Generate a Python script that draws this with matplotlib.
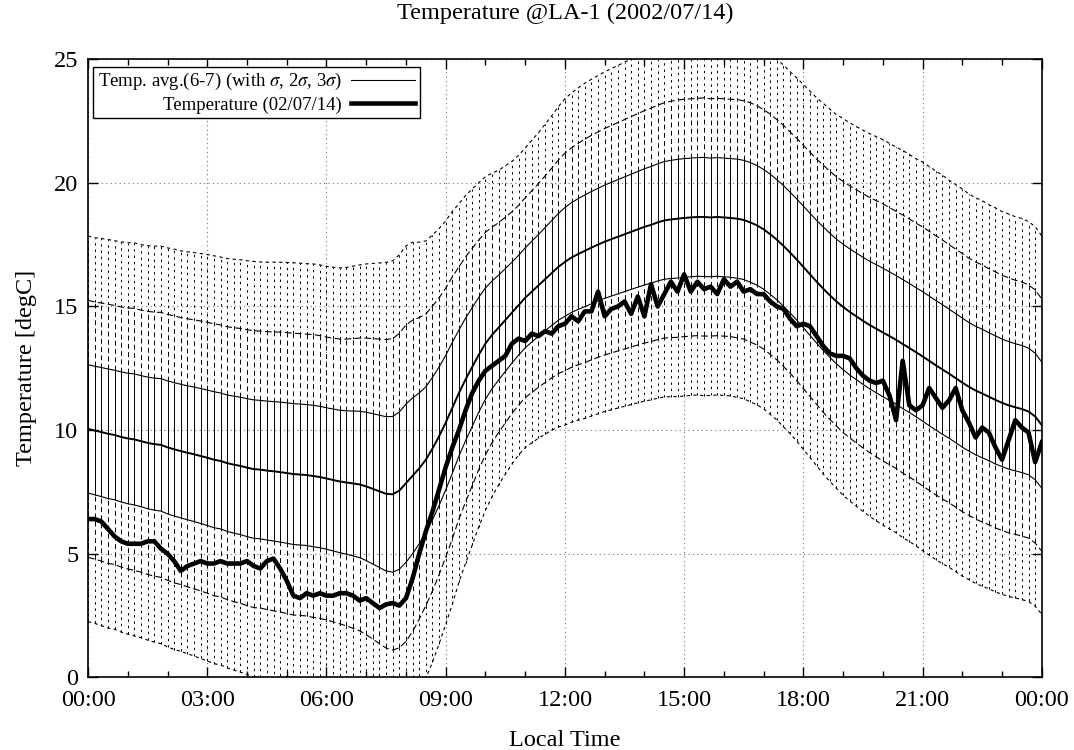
import numpy as np
import matplotlib
matplotlib.use("Agg")
import matplotlib.pyplot as plt
from matplotlib.lines import Line2D

plt.rcParams['font.family'] = ['Liberation Serif', 'DejaVu Serif']
plt.rcParams['mathtext.fontset'] = 'stix'

# Time axis: 10-minute steps over one day (hours)
step_minutes = 10
hours = np.arange(0, 24 * 60 + 1, step_minutes) / 60.0

# Climatological mean temperature (June-July), degC
mean_temp = [
    10.05, 9.98, 9.92, 9.85, 9.80, 9.72,
    9.66, 9.62, 9.55, 9.48, 9.43, 9.40,
    9.30, 9.22, 9.15, 9.08, 9.02, 8.95,
    8.88, 8.80, 8.75, 8.66, 8.60, 8.55,
    8.48, 8.42, 8.40, 8.36, 8.33, 8.30,
    8.26, 8.22, 8.20, 8.18, 8.14, 8.10,
    8.04, 7.98, 7.92, 7.88, 7.84, 7.80,
    7.72, 7.62, 7.52, 7.42, 7.40, 7.55,
    7.85, 8.15, 8.45, 8.80, 9.25, 9.75,
    10.30, 10.90, 11.50, 12.05, 12.55, 13.05,
    13.50, 13.85, 14.15, 14.45, 14.75, 15.05,
    15.35, 15.60, 15.85, 16.10, 16.35, 16.60,
    16.80, 16.98, 17.12, 17.25, 17.38, 17.50,
    17.62, 17.72, 17.82, 17.92, 18.02, 18.12,
    18.22, 18.30, 18.40, 18.48, 18.52, 18.55,
    18.58, 18.60, 18.62, 18.62, 18.60, 18.62,
    18.60, 18.58, 18.55, 18.50, 18.40, 18.28,
    18.12, 17.92, 17.70, 17.45, 17.18, 16.90,
    16.60, 16.30, 16.00, 15.72, 15.45, 15.20,
    14.98, 14.78, 14.60, 14.42, 14.25, 14.10,
    13.95, 13.80, 13.65, 13.48, 13.32, 13.15,
    12.98, 12.80, 12.62, 12.45, 12.28, 12.10,
    11.92, 11.75, 11.60, 11.48, 11.35, 11.22,
    11.10, 11.00, 10.92, 10.85, 10.75, 10.55,
    10.20,
]

# Standard deviation of the climatology, degC
sigma = [
    2.60, 2.60, 2.61, 2.62, 2.62, 2.63,
    2.64, 2.65, 2.65, 2.66, 2.67, 2.68,
    2.69, 2.70, 2.70, 2.71, 2.72, 2.73,
    2.74, 2.75, 2.75, 2.76, 2.77, 2.78,
    2.79, 2.80, 2.80, 2.81, 2.82, 2.83,
    2.84, 2.85, 2.85, 2.85, 2.86, 2.86,
    2.86, 2.87, 2.88, 2.90, 2.93, 2.96,
    3.00, 3.04, 3.08, 3.12, 3.15, 3.18,
    3.20, 3.15, 3.05, 2.95, 2.88, 2.80,
    2.72, 2.65, 2.55, 2.48, 2.40, 2.32,
    2.25, 2.18, 2.12, 2.08, 2.04, 2.02,
    2.02, 2.04, 2.06, 2.09, 2.12, 2.16,
    2.20, 2.22, 2.24, 2.26, 2.27, 2.28,
    2.29, 2.30, 2.31, 2.32, 2.33, 2.34,
    2.35, 2.36, 2.37, 2.38, 2.39, 2.40,
    2.40, 2.40, 2.40, 2.41, 2.40, 2.40,
    2.40, 2.40, 2.41, 2.41, 2.42, 2.42,
    2.42, 2.43, 2.43, 2.44, 2.44, 2.45,
    2.46, 2.47, 2.48, 2.50, 2.51, 2.52,
    2.54, 2.55, 2.56, 2.57, 2.58, 2.59,
    2.60, 2.60, 2.60, 2.61, 2.61, 2.61,
    2.62, 2.62, 2.62, 2.62, 2.61, 2.61,
    2.61, 2.60, 2.60, 2.60, 2.59, 2.59,
    2.58, 2.58, 2.57, 2.57, 2.56, 2.56,
    2.55,
]

# Observed temperature on 2002/07/14, degC
temp_day = [
    6.4, 6.4, 6.3, 6.0, 5.7, 5.5,
    5.4, 5.4, 5.4, 5.5, 5.5, 5.2,
    5.0, 4.7, 4.3, 4.5, 4.6, 4.7,
    4.6, 4.6, 4.7, 4.6, 4.6, 4.6,
    4.7, 4.5, 4.4, 4.7, 4.8, 4.4,
    3.9, 3.3, 3.2, 3.4, 3.3, 3.4,
    3.3, 3.3, 3.4, 3.4, 3.3, 3.1,
    3.2, 3.0, 2.8, 2.95, 3.0, 2.9,
    3.2, 4.0, 5.0, 5.9, 6.7, 7.6,
    8.5, 9.3, 10.0, 10.8, 11.5, 12.0,
    12.4, 12.6, 12.8, 13.0, 13.5, 13.7,
    13.6, 13.9, 13.8, 14.0, 13.9, 14.2,
    14.3, 14.6, 14.4, 14.8, 14.8, 15.6,
    14.6, 14.9, 15.0, 15.2, 14.7, 15.4,
    14.6, 15.9, 15.0, 15.5, 16.0, 15.6,
    16.3, 15.6, 16.0, 15.7, 15.8, 15.5,
    16.1, 15.8, 16.0, 15.6, 15.7, 15.5,
    15.5, 15.2, 15.0, 14.9, 14.5, 14.2,
    14.3, 14.2, 13.8, 13.4, 13.1, 13.0,
    13.0, 12.9, 12.5, 12.2, 12.0, 11.9,
    12.0, 11.4, 10.4, 12.8, 11.0, 10.8,
    11.0, 11.7, 11.3, 10.9, 11.2, 11.7,
    10.8, 10.3, 9.7, 10.1, 9.9, 9.3,
    8.8, 9.6, 10.4, 10.1, 9.9, 8.7,
    9.5,
]

x_tick_hours = [0, 3, 6, 9, 12, 15, 18, 21, 24]
x_tick_labels = ["00:00", "03:00", "06:00", "09:00", "12:00",
                 "15:00", "18:00", "21:00", "00:00"]
y_ticks = [0, 5, 10, 15, 20, 25]

m = np.asarray(mean_temp)
s = np.asarray(sigma)

fig = plt.figure(figsize=(10.74, 7.5), dpi=100)
ax = fig.add_axes([0.082, 0.097, 0.888, 0.824])

FS = 17.5
LEG_FS = 13.5
bar_lw = 0.7
dash_2s = (0, (5, 3.5))
dot_3s = (0, (2.5, 4))

# error bars: solid within 1 sigma, dashed to 2 sigma, dotted to 3 sigma
ax.vlines(hours, m + 2 * s, m + 3 * s, colors='black', linewidth=bar_lw, linestyles=dot_3s, zorder=2)
ax.vlines(hours, m - 3 * s, m - 2 * s, colors='black', linewidth=bar_lw, linestyles=dot_3s, zorder=2)
ax.vlines(hours, m + s, m + 2 * s, colors='black', linewidth=bar_lw, linestyles=dash_2s, zorder=2)
ax.vlines(hours, m - 2 * s, m - s, colors='black', linewidth=bar_lw, linestyles=dash_2s, zorder=2)
ax.vlines(hours, m - s, m + s, colors='black', linewidth=bar_lw, linestyles='solid', zorder=2)

# envelope curves
env_lw = 0.8
ax.plot(hours, m + 3 * s, color='black', lw=env_lw, ls=(0, (3, 3)), zorder=3)
ax.plot(hours, m - 3 * s, color='black', lw=env_lw, ls=(0, (3, 3)), zorder=3)
ax.plot(hours, m + 2 * s, color='black', lw=env_lw, ls=(0, (6, 3)), zorder=3)
ax.plot(hours, m - 2 * s, color='black', lw=env_lw, ls=(0, (6, 3)), zorder=3)
ax.plot(hours, m + s, color='black', lw=env_lw, zorder=3)
ax.plot(hours, m - s, color='black', lw=env_lw, zorder=3)
ax.plot(hours, m, color='black', lw=1.4, zorder=4)

# observed day
ax.plot(hours, temp_day, color='black', lw=3.3, solid_joinstyle='round', zorder=5)

ax.set_xlim(0, 24)
ax.set_ylim(0, 25)
ax.set_xticks(x_tick_hours)
ax.set_xticklabels(x_tick_labels)
ax.set_xticks(np.arange(0, 25, 1), minor=True)
ax.set_yticks(y_ticks)

ax.tick_params(which='both', direction='in', top=True, right=True, labelsize=FS)
ax.tick_params(axis='x', pad=9)
ax.tick_params(axis='y', pad=7)
ax.tick_params(which='major', length=7, width=1.0)
ax.tick_params(which='minor', length=4, width=1.0)
for sp in ax.spines.values():
    sp.set_linewidth(1.2)

ax.grid(True, which='major', color='0.45', linestyle=(0, (1, 3)), linewidth=0.8)
ax.set_axisbelow(True)

ax.set_xlabel("Local Time", fontsize=FS, labelpad=14)
ax.set_ylabel("Temperature [degC]", fontsize=FS, labelpad=12)
ax.set_title("Temperature @LA-1 (2002/07/14)", fontsize=FS, pad=29)

handles = [Line2D([], [], color='black', lw=0.8),
           Line2D([], [], color='black', lw=3.3)]
labels = [r"Temp. avg.(6-7) (with $\sigma$, 2$\sigma$, 3$\sigma$)",
          "Temperature (02/07/14)"]
leg = ax.legend(handles, labels, loc='upper left', bbox_to_anchor=(0.005, 0.988),
                borderaxespad=0, markerfirst=False, fancybox=False,
                edgecolor='black', framealpha=1, fontsize=LEG_FS,
                handlelength=3.4, handletextpad=0.5, labelspacing=0.2,
                borderpad=0.25)
leg.get_frame().set_linewidth(1.0)
leg.set_zorder(10)

fig.savefig("out.png", dpi=100)
